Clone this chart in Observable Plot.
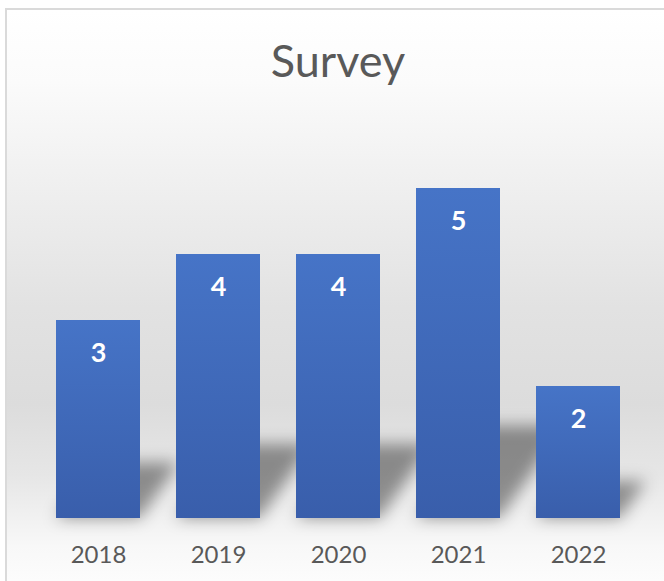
<!DOCTYPE html>
<html>
<head>
<meta charset="utf-8">
<script src="https://cdn.jsdelivr.net/npm/d3@7"></script>
<script src="https://cdn.jsdelivr.net/npm/@observablehq/plot@0.6"></script>
<style>
html, body { margin: 0; padding: 0; background: #ffffff; overflow: hidden; width: 664px; height: 581px; }
#frame {
  position: absolute; left: 5px; top: 8px; width: 700px; height: 600px;
  border: 2px solid #dadada; box-sizing: border-box;
  background: linear-gradient(to bottom, #ffffff 0%, #fbfbfb 12%, #efefef 30%, #e2e2e2 50%, #dcdcdc 66%, #e6e6e6 78%, #f8f8f8 90%, #ffffff 100%);
}
#title {
  position: absolute; left: 0; top: 23px; width: 662px; text-align: center;
  font-family: Lato, "Open Sans", sans-serif; font-size: 45px; line-height: 1.2; color: #595959;
}
#chart { position: absolute; left: 0; top: 0; }
</style>
</head>
<body>
<div id="frame">
  <div id="chart"></div>
  <div id="title">Survey</div>
</div>
<script>
const years = ["2018", "2019", "2020", "2021", "2022"];
const counts = [3, 4, 4, 5, 2];
const data = years.map((year, i) => ({year, count: counts[i]}));

const W = 657, H = 571;
const plot = Plot.plot({
  width: W,
  height: H,
  marginLeft: 31,
  marginRight: 26,
  marginTop: 112,
  marginBottom: 63,
  style: {background: "transparent", fontFamily: "Lato, 'Open Sans', sans-serif", overflow: "visible"},
  x: {domain: years, paddingInner: 0.3, paddingOuter: 0.15, label: null},
  y: {domain: [0, 6], axis: null},
  marks: [
    Plot.barY(data, {x: "year", y: "count", fill: "#000000", fillOpacity: 0.4}),
    Plot.barY(data, {x: "year", y: "count", fill: "url(#barGrad)"}),
    Plot.text(data, {x: "year", y: "count", text: d => String(d.count), dy: 33, fill: "#ffffff", fontSize: 27, fontWeight: "bold", lineAnchor: "middle"}),
    Plot.axisX({tickSize: 0, tickPadding: 27, fontSize: 24, fill: "#595959", label: null})
  ]
});

const svg = d3.select(plot);
const defs = svg.insert("defs", ":first-child");
const lg = defs.append("linearGradient").attr("id", "barGrad")
  .attr("x1", 0).attr("y1", 0).attr("x2", 0).attr("y2", 1);
lg.append("stop").attr("offset", "0%").attr("stop-color", "#4674c7");
lg.append("stop").attr("offset", "100%").attr("stop-color", "#395eab");
const f = defs.append("filter").attr("id", "shadowBlur")
  .attr("x", "-30%").attr("y", "-60%").attr("width", "160%").attr("height", "220%");
f.append("feGaussianBlur").attr("stdDeviation", 8);

// perspective shadow: flatten the first bar layer toward the baseline and skew it
const b = plot.scale("y").apply(0);
const shadowNode = plot.querySelector('g[aria-label="bar"]');
const outer = document.createElementNS("http://www.w3.org/2000/svg", "g");
outer.setAttribute("filter", "url(#shadowBlur)");
const inner = document.createElementNS("http://www.w3.org/2000/svg", "g");
inner.setAttribute("transform", `translate(0,${b}) skewX(-35) scale(1,0.28) translate(0,${-b})`);
shadowNode.parentNode.insertBefore(outer, shadowNode);
outer.appendChild(inner);
inner.appendChild(shadowNode);

document.getElementById("chart").appendChild(plot);
</script>
</body>
</html>
